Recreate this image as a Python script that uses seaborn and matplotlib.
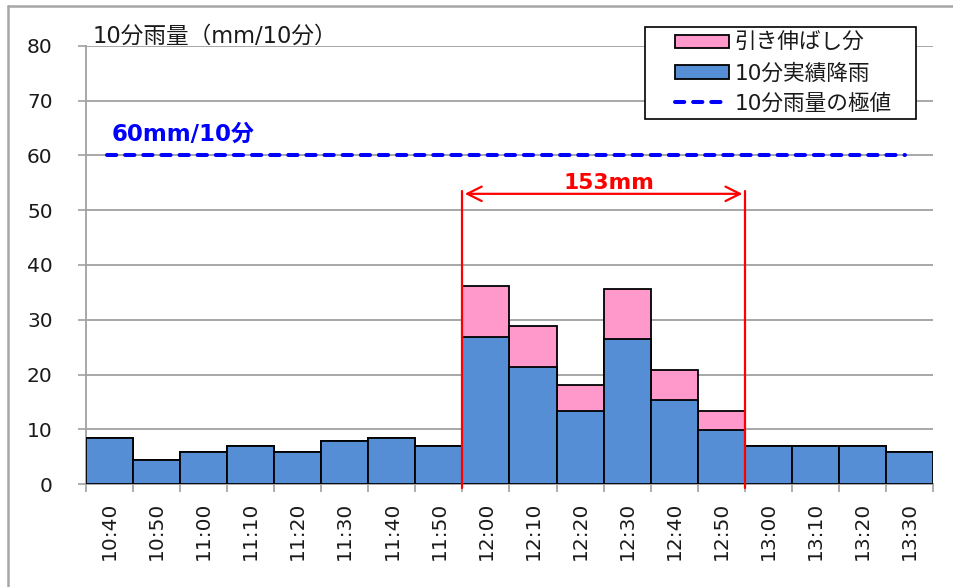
import matplotlib
matplotlib.use("Agg")
import matplotlib.pyplot as plt
from matplotlib.patches import Patch, Rectangle
from matplotlib.lines import Line2D
import seaborn as sns
import pandas as pd
import numpy as np

# 10-minute rainfall (mm/10min)
times = ["10:40", "10:50", "11:00", "11:10", "11:20", "11:30", "11:40", "11:50",
         "12:00", "12:10", "12:20", "12:30", "12:40", "12:50",
         "13:00", "13:10", "13:20", "13:30"]
actual = [8.4, 4.4, 5.9, 6.9, 5.9, 7.9, 8.4, 6.9,
          26.8, 21.4, 13.4, 26.4, 15.4, 9.9,
          6.9, 6.9, 6.9, 5.9]
extension = [0, 0, 0, 0, 0, 0, 0, 0,
             9.3, 7.5, 4.7, 9.3, 5.4, 3.5,
             0, 0, 0, 0]
extreme_value = 60
yticks = [0, 10, 20, 30, 40, 50, 60, 70, 80]
span_start, span_end = "12:00", "12:50"

sns.set_theme(style="white")
plt.rcParams["font.family"] = ["DejaVu Sans", "Noto Sans CJK JP"]

df = pd.DataFrame({"time": times, "actual": actual, "extension": extension})
df["total"] = df["actual"] + df["extension"]

W, H = 954, 587
fig = plt.figure(figsize=(W / 100, H / 100), dpi=100)
ax = fig.add_axes([86 / W, 1 - 484 / H, (933 - 86) / W, (484 - 46) / H])

blue = "#558ED5"
pink = "#FF99CC"
grid_c = "#A0A0A0"
text_c = "#1a1a1a"

# stacked bars: total (pink) underneath, actual (blue) on top
sns.barplot(data=df, x="time", y="total", order=times, color=pink, width=1.0,
            edgecolor="black", linewidth=1.3, saturation=1, ax=ax, zorder=2)
sns.barplot(data=df, x="time", y="actual", order=times, color=blue, width=1.0,
            edgecolor="black", linewidth=1.3, saturation=1, ax=ax, zorder=3)

ax.set_xlim(-0.5, len(times) - 0.5)
ax.set_ylim(0, 80)
ax.set_yticks(yticks)
ax.set_yticklabels([str(v) for v in yticks], fontsize=14.5, color=text_c)
ax.tick_params(axis="y", length=6, width=1.2, color=grid_c, pad=18, direction="out", left=True)
ax.yaxis.grid(True, color=grid_c, linewidth=1.3, zorder=0)
ax.set_axisbelow(True)
ax.set_xlabel("")
ax.set_ylabel("")

# category labels, ticks on the category boundaries
ax.set_xticks(np.arange(len(times)))
ax.set_xticklabels(times, rotation=90, fontsize=14.5, color=text_c)
ax.tick_params(axis="x", which="major", length=0, pad=13)
ax.set_xticks(np.arange(len(times) + 1) - 0.5, minor=True)
ax.tick_params(axis="x", which="minor", length=6, width=1.2, color=grid_c,
               direction="out", bottom=True)

for side in ["top", "right"]:
    ax.spines[side].set_visible(False)
for side in ["left", "bottom"]:
    ax.spines[side].set_color(grid_c)
    ax.spines[side].set_linewidth(1.3)

# extreme-value line
dash = (0, (2.3, 2.2))
ax.plot([-0.05, 16.9], [extreme_value, extreme_value], color="#0000FF",
        linewidth=2.9, linestyle=dash, dash_capstyle="round", zorder=4)
ax.text(0.04, extreme_value + 3.9, f"{extreme_value}mm/10分", color="#0000FF",
        fontsize=16.5, fontweight="bold", va="center", ha="left")

# total rainfall over the extended period
i0, i1 = times.index(span_start), times.index(span_end)
span_total = df["total"].iloc[i0:i1 + 1].sum()
xl, xr = i0 - 0.5, i1 + 0.5
for xv in (xl, xr):
    ax.plot([xv, xv], [-0.8, 53.5], color="#FF0000", linewidth=1.6, zorder=5, clip_on=False)
ax.annotate("", xy=(xl + 0.05, 53.0), xytext=(xr - 0.05, 53.0),
            arrowprops=dict(arrowstyle="<->", color="#FF0000", lw=1.6,
                            mutation_scale=26, shrinkA=0, shrinkB=0), zorder=5)
ax.text((xl + xr) / 2 + 0.12, 54.9, f"{span_total:.0f}mm", color="#FF0000",
        fontsize=15.7, fontweight="bold", ha="center", va="center", zorder=6)

# axis title
fig.text(93 / W, 1 - 36 / H, "10分雨量（mm/10分）", fontsize=16.3, color=text_c,
         ha="left", va="center")

# legend (frame drawn separately)
fig.add_artist(Rectangle((645 / W, 1 - 119 / H), (916 - 645) / W, (119 - 27) / H,
                         transform=fig.transFigure, facecolor="white",
                         edgecolor="black", linewidth=1.2, zorder=8))
handles = [
    Patch(facecolor=pink, edgecolor="black", linewidth=1.3),
    Patch(facecolor=blue, edgecolor="black", linewidth=1.3),
    Line2D([0], [0], color="#0000FF", linewidth=2.9, linestyle=dash,
           dash_capstyle="round"),
]
labels = ["引き伸ばし分", "10分実績降雨", "10分雨量の極値"]
leg = fig.legend(handles, labels, loc="upper left",
                 bbox_to_anchor=(675 / W, 1 - 33 / H), fontsize=15.6,
                 frameon=False, handlelength=2.5, handleheight=0.6,
                 handletextpad=0.25, labelspacing=0.45, borderpad=0,
                 borderaxespad=0)
leg.set_zorder(9)
for t in leg.get_texts():
    t.set_color(text_c)

# chart-area border (left and top)
fig.add_artist(Line2D([8 / W, 8 / W], [0, 1 - 6 / H], transform=fig.transFigure,
                      color="#A6A6A6", linewidth=1.8))
fig.add_artist(Line2D([8 / W, 1], [1 - 6 / H, 1 - 6 / H], transform=fig.transFigure,
                      color="#A6A6A6", linewidth=1.8))

fig.savefig("out.png", dpi=100, facecolor="white")
